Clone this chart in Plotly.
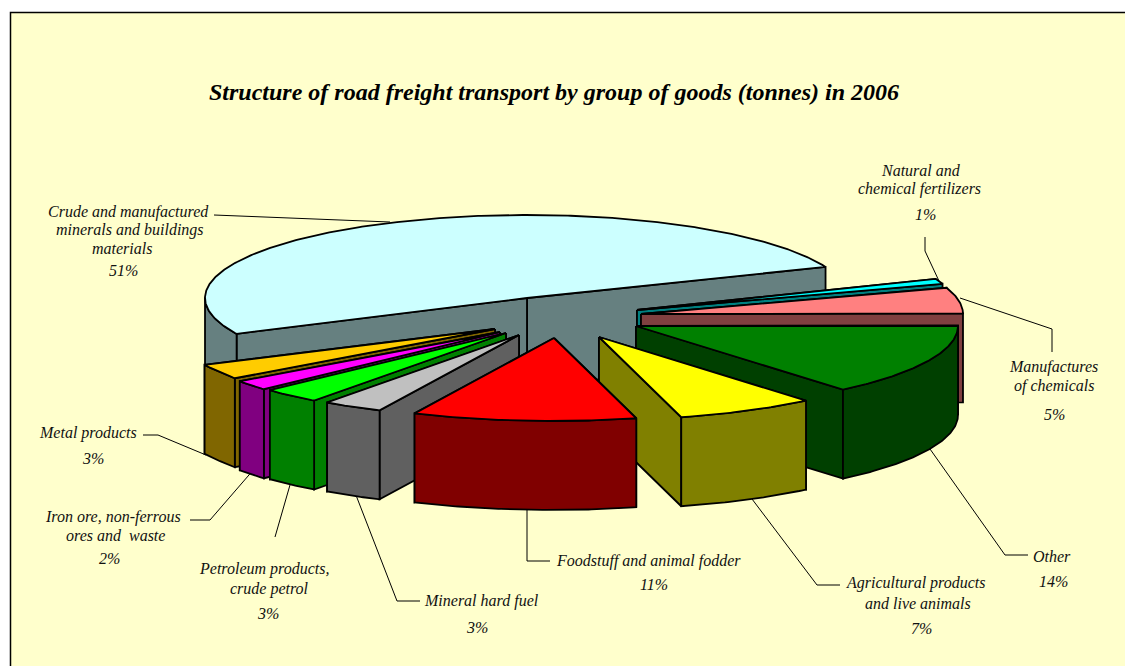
import numpy as np
import plotly.graph_objects as go

# ---- data (clockwise from the top right edge of the big slice) ----
GROUPS = [
    "Natural and chemical fertilizers",
    "Manufactures of chemicals",
    "Other",
    "Agricultural products and live animals",
    "Foodstuff and animal fodder",
    "Mineral hard fuel",
    "Petroleum products, crude petrol",
    "Iron ore, non-ferrous ores and waste",
    "Metal products",
    "Crude and manufactured minerals and buildings materials",
]
SHARES = [1, 5, 14, 7, 11, 3, 3, 2, 3, 51]
TOP_COLORS = ["#00FFFF", "#FF8080", "#008000", "#FFFF00", "#FF0000",
              "#C0C0C0", "#00FF00", "#FF00FF", "#FFCC00", "#CCFFFF"]
SIDE_COLORS = ["#008080", "#804040", "#004000", "#808000", "#800000",
               "#606060", "#008000", "#800080", "#806600", "#668080"]
TITLE = "Structure of road freight transport by group of goods (tonnes) in 2006"

# ---- projection of the tilted pie ----
START_ANGLE = 22.0
RX, RY, DEPTH = 322.0, 83.0, 89.0
PERSPECTIVE = 0.09
APEX = [(637, 310), (641, 314), (636, 326), (599, 337), (554, 338),
        (519, 335), (506, 333), (500, 332), (495, 329), (527, 298)]
DRAW_ORDER = [9, 0, 1, 2, 3, 8, 7, 6, 5, 4]

# ---- text placement: (text lines, centre x, centre y) and share line ----
LABELS = {
    0: ([("Natural and", 921, 170), ("chemical fertilizers", 919, 189)], (925, 214)),
    1: ([("Manufactures", 1053, 367), ("of chemicals", 1054, 386)], (1054, 414)),
    2: ([("Other", 1052, 556)], (1053, 581)),
    3: ([("Agricultural products", 916, 583), ("and live animals", 918, 603)], (921, 628)),
    4: ([("Foodstuff and animal fodder", 648, 561)], (654, 584)),
    5: ([("Mineral hard fuel", 481, 601)], (477, 627)),
    6: ([("Petroleum products,", 264, 569), ("crude petrol", 269, 589)], (268, 613)),
    7: ([("Iron ore, non-ferrous", 113, 517), ("ores and  waste", 115, 535)], (109, 558)),
    8: ([("Metal products", 88, 433)], (93, 458)),
    9: ([("Crude and manufactured", 128, 212), ("minerals and buildings", 130, 230),
         ("materials", 122, 248)], (123, 270)),
}
LEADERS = [
    [(925, 237), (925, 251), (939, 281)],
    [(960, 298), (1052, 329), (1052, 352)],
    [(930, 449), (1005, 555), (1028, 555)],
    [(752, 499), (817, 585), (840, 585)],
    [(527, 505), (527, 561), (550, 561)],
    [(354, 490), (397, 601), (420, 601)],
    [(292, 478), (275, 537)],
    [(255, 468), (210, 520), (190, 520)],
    [(143, 435), (158, 435), (206, 455)],
    [(214, 215), (390, 222)],
]


def project(apex, deg):
    t = np.radians(deg)
    u, v = np.cos(t), np.sin(t)
    s = 1 + PERSPECTIVE * np.maximum(0, -v - 0.55) * (u < 0)
    return apex[0] + RX * u * s, apex[1] - RY * v


def poly(xs, ys, fill):
    xs, ys = list(xs), list(ys)
    return go.Scatter(x=xs + xs[:1], y=ys + ys[:1], mode="lines", fill="toself",
                      fillcolor=fill, line=dict(color="black", width=1.8),
                      hoverinfo="skip", showlegend=False)


bounds = START_ANGLE - np.cumsum([0] + SHARES) * 3.6
fig = go.Figure()

for path in LEADERS:
    fig.add_trace(go.Scatter(x=[p[0] for p in path], y=[p[1] for p in path], mode="lines",
                             line=dict(color="black", width=1), hoverinfo="skip", showlegend=False))

for i in DRAW_ORDER:
    a0, a1 = bounds[i], bounds[i + 1]
    apex = APEX[i]
    side, top = SIDE_COLORS[i], TOP_COLORS[i]
    # radial walls, rear one first
    for a in sorted([a0, a1], key=lambda d: -np.sin(np.radians(d))):
        x, y = project(apex, a)
        fig.add_trace(poly([apex[0], x, x, apex[0]],
                           [apex[1], y, y + DEPTH, apex[1] + DEPTH], side))
    # outer wall: only the part of the rim that faces the viewer
    th = np.linspace(a0, a1, max(8, int(abs(a0 - a1) * 2)))
    front = th[np.sin(np.radians(th)) <= 0.01]
    if len(front) > 1:
        x, y = project(apex, front)
        fig.add_trace(poly(np.r_[x, x[::-1]], np.r_[y, (y + DEPTH)[::-1]], side))
    # top face
    x, y = project(apex, th)
    fig.add_trace(poly(np.r_[apex[0], x], np.r_[apex[1], y], top))

font = dict(family="Liberation Serif", size=16, color="#111111")
notes = []
for i, (lines, share_pos) in LABELS.items():
    for text, x, y in lines:
        notes.append(dict(x=x, y=y, text=f"<i>{text}</i>", showarrow=False, font=font))
    notes.append(dict(x=share_pos[0], y=share_pos[1], text=f"<i>{SHARES[i]}%</i>",
                      showarrow=False, font=font))
notes.append(dict(x=554, y=92, text=f"<b><i>{TITLE}</i></b>", showarrow=False,
                  font=dict(family="Liberation Serif", size=24, color="black")))

fig.update_layout(
    width=1125, height=666, margin=dict(l=0, r=0, t=0, b=0),
    paper_bgcolor="white", plot_bgcolor="white", showlegend=False,
    xaxis=dict(range=[0, 1125], visible=False, fixedrange=True),
    yaxis=dict(range=[666, 0], visible=False, fixedrange=True),
    annotations=notes,
    shapes=[dict(type="rect", xref="x", yref="y", x0=10.5, y0=12.5, x1=1135, y1=680,
                 fillcolor="#FFFFCC", line=dict(color="black", width=1.5), layer="below")],
)
fig.write_html("out.html", config={"displayModeBar": False},
               post_script="document.body.style.margin='0';document.body.style.overflow='hidden';")
